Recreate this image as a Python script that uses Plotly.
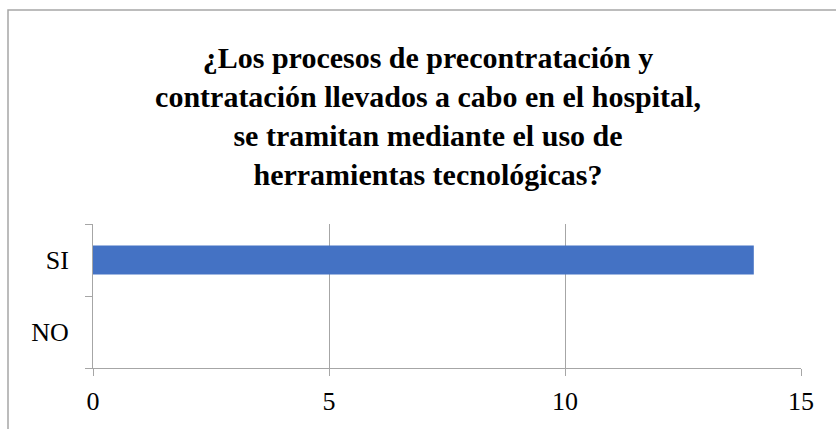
import plotly.graph_objects as go

categories = ['NO', 'SI']
values = [0, 14]
x_ticks = [0, 5, 10, 15]
title_lines = [
    '¿Los procesos de precontratación y',
    'contratación llevados a cabo en el hospital,',
    'se tramitan mediante el uso de',
    'herramientas tecnológicas?',
]

W, H = 836, 429
L, R, T, B = 93, 35, 224, 61
pw, ph = W - L - R, H - T - B

fig = go.Figure()
fig.add_trace(go.Bar(
    x=values, y=categories, orientation='h',
    marker=dict(color='#4472C4', line=dict(width=0)),
    width=0.4,
))

serif = 'Liberation Serif, Times New Roman, serif'
grid = '#A6A6A6'

fig.update_layout(
    width=W, height=H,
    margin=dict(l=L, r=R, t=T, b=B, autoexpand=False),
    paper_bgcolor='white', plot_bgcolor='white',
    showlegend=False,
    font=dict(family=serif, size=26, color='black'),
    title=dict(
        text='<br>'.join(title_lines),
        font=dict(family=serif, size=30, color='black', weight='bold'),
        x=428 / W, xanchor='center', xref='container',
        y=1 - 68 / H, yanchor='top', yref='container',
    ),
    xaxis=dict(
        range=[0, 15], tickvals=x_ticks,
        showgrid=True, gridcolor=grid, gridwidth=1,
        showline=True, linecolor=grid, linewidth=1,
        ticks='outside', ticklen=7, tickcolor=grid,
        ticklabelstandoff=3,
        zeroline=False, fixedrange=True, automargin=False,
    ),
    yaxis=dict(
        categoryorder='array', categoryarray=categories,
        range=[-0.5, 1.5],
        showline=True, linecolor=grid, linewidth=1,
        ticks='outside', ticklen=7, tickcolor=grid, tickson='boundaries',
        ticklabelstandoff=18,
        showgrid=False, fixedrange=True, automargin=False,
    ),
    shapes=[dict(
        type='rect', xref='paper', yref='paper',
        x0=(8 - L) / pw, x1=(W + 20 - L) / pw,
        y0=-(B + 20) / ph, y1=(H - 10 - B) / ph,
        line=dict(color='#A6A6A6', width=1.5),
        fillcolor='rgba(0,0,0,0)', layer='below',
    )],
)

fig.write_html('out.html', config={'displayModeBar': False},
               post_script="document.body.style.margin='0';")
